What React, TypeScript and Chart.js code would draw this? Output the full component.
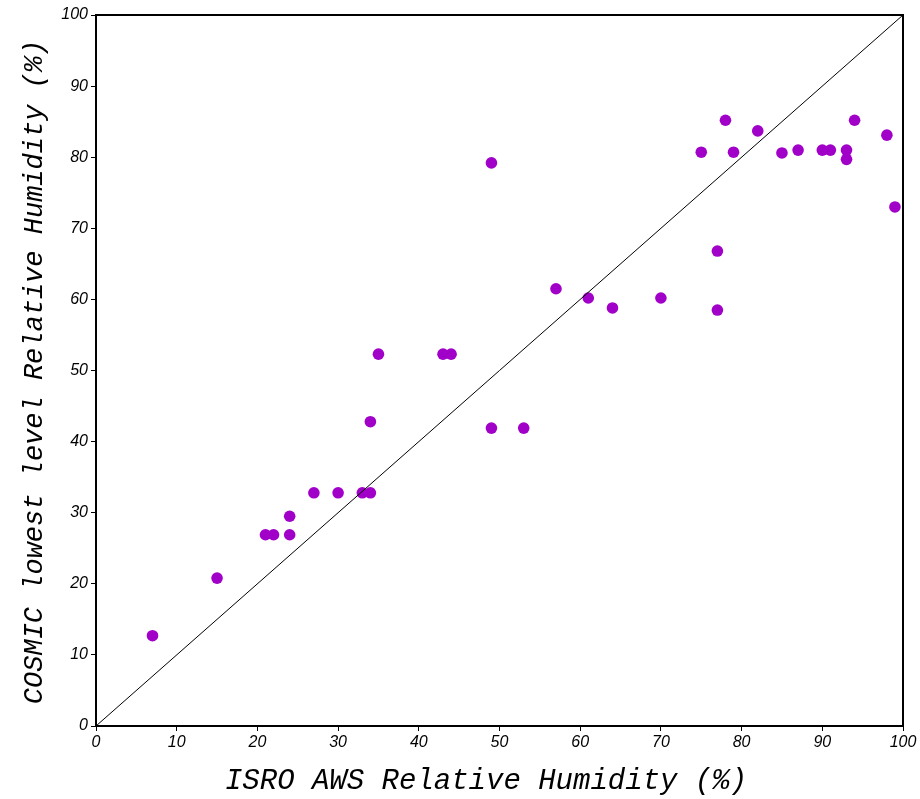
import React, { useEffect, useRef } from "react";
import { Chart, registerables } from "chart.js";

Chart.register(...registerables);

const isroAws: number[] = [7, 15, 21, 22, 24, 24, 27, 30, 33, 34, 34, 35, 43, 44, 49, 49, 53, 57, 61, 64, 70, 75, 77, 77, 78, 79, 82, 85, 87, 90, 91, 93, 93, 94, 98, 99];
const cosmic: number[] = [12.7, 20.8, 26.9, 26.9, 26.9, 29.5, 32.8, 32.8, 32.8, 32.8, 42.8, 52.3, 52.3, 52.3, 79.2, 41.9, 41.9, 61.5, 60.2, 58.8, 60.2, 80.7, 66.8, 58.5, 85.2, 80.7, 83.7, 80.6, 81, 81, 81, 81, 79.7, 85.2, 83.1, 73];
const refLine: number[] = [0, 100];
const xTitle = "ISRO AWS Relative Humidity (%)";
const yTitle = "COSMIC lowest level Relative Humidity (%)";

export default function App() {
  const ref = useRef<HTMLCanvasElement | null>(null);
  useEffect(() => {
    if (!ref.current) return;
    const framePlugin = {
      id: "frame",
      afterDraw(chart: any) {
        const { ctx, chartArea } = chart;
        ctx.save();
        ctx.strokeStyle = "#000";
        ctx.lineWidth = 2;
        ctx.strokeRect(chartArea.left, chartArea.top, chartArea.right - chartArea.left, chartArea.bottom - chartArea.top);
        ctx.fillStyle = "#000";
        ctx.font = "italic 29px 'Liberation Mono'";
        ctx.textAlign = "center";
        ctx.textBaseline = "alphabetic";
        ctx.fillText(xTitle, 486, 789);
        ctx.translate(42, 372);
        ctx.rotate(-Math.PI / 2);
        ctx.font = "italic 27px 'Liberation Mono'";
        ctx.fillText(yTitle, 0, 0);
        ctx.restore();
      },
    };
    const tickFont = { family: "'Liberation Sans'", size: 16, style: "italic" as const };
    const chart = new Chart(ref.current, {
      type: "scatter",
      data: {
        datasets: [
          {
            type: "line",
            data: refLine.map((v) => ({ x: v, y: v })),
            borderColor: "#000",
            borderWidth: 1,
            pointRadius: 0,
            fill: false,
          } as any,
          {
            data: isroAws.map((x, i) => ({ x, y: cosmic[i] })),
            backgroundColor: "#a000c8",
            borderColor: "#a000c8",
            pointRadius: 5.8,
            borderWidth: 0,
          },
        ],
      },
      options: {
        animation: false,
        responsive: false,
        layout: { padding: { top: 15, right: 17, left: 0, bottom: 0 } },
        plugins: { legend: { display: false }, tooltip: { enabled: false } },
        scales: {
          x: {
            type: "linear",
            min: 0,
            max: 100,
            ticks: { stepSize: 10, color: "#000", font: tickFont, padding: 2, maxRotation: 0 },
            grid: { drawOnChartArea: false, drawTicks: true, tickLength: 5, color: "#000" },
            border: { display: true, color: "#000", width: 2 },
            afterFit: (s: any) => { s.height = 73; },
          },
          y: {
            type: "linear",
            min: 0,
            max: 100,
            ticks: { stepSize: 10, color: "#000", font: tickFont, padding: 3 },
            grid: { drawOnChartArea: false, drawTicks: true, tickLength: 5, color: "#000" },
            border: { display: true, color: "#000", width: 2 },
            afterFit: (s: any) => { s.width = 96; },
          },
        },
      },
      plugins: [framePlugin],
    });
    return () => chart.destroy();
  }, []);
  return (
    <div style={{ position: "absolute", left: 0, top: 0, width: 920, height: 799, background: "#fff" }}>
      <canvas ref={ref} width={920} height={799} style={{ display: "block" }} />
    </div>
  );
}
